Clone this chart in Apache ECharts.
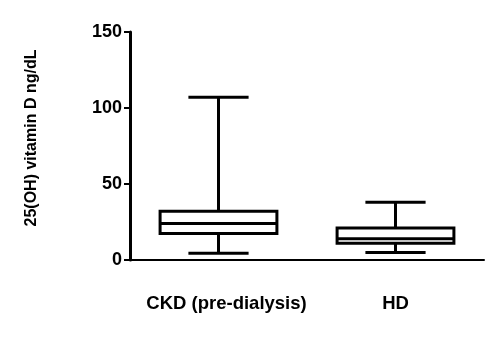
<!DOCTYPE html>
<html>
<head>
<meta charset="utf-8">
<script src="https://cdn.jsdelivr.net/npm/echarts@6/dist/echarts.min.js"></script>
<style>
  html, body { margin: 0; padding: 0; background: #fff; }
  #chart { width: 500px; height: 337px; }
</style>
</head>
<body>
<div id="chart"></div>
<script>
  // groups on the x axis
  var categories = ['CKD (pre-dialysis)', 'HD']
  // box plot values
  var whiskerLow = [4.5, 5]
  var q1 = [17.5, 11]
  var median = [24, 14]
  var q3 = [32, 21]
  var whiskerHigh = [107, 38]
  var yTicks = [0, 50, 100, 150]

  var rows = categories.map(function (c, i) {
    return [i, whiskerLow[i], q1[i], median[i], q3[i], whiskerHigh[i]]
  })

  var chart = echarts.init(document.getElementById('chart'))

  function renderBox(params, api) {
    var idx = api.value(0)
    var bandW = api.size([1, 0])[0]
    var half = bandW * 0.33
    var capHalf = bandW * 0.17
    var low = api.coord([idx, api.value(1)])
    var p1 = api.coord([idx, api.value(2)])
    var pm = api.coord([idx, api.value(3)])
    var p3 = api.coord([idx, api.value(4)])
    var high = api.coord([idx, api.value(5)])
    var cx = low[0]
    var st = { stroke: '#000', lineWidth: 3, fill: null }
    return {
      type: 'group',
      children: [
        { type: 'line', shape: { x1: cx, y1: high[1], x2: cx, y2: p3[1] }, style: st },
        { type: 'line', shape: { x1: cx, y1: p1[1], x2: cx, y2: low[1] }, style: st },
        { type: 'line', shape: { x1: cx - capHalf, y1: high[1], x2: cx + capHalf, y2: high[1] }, style: st },
        { type: 'line', shape: { x1: cx - capHalf, y1: low[1], x2: cx + capHalf, y2: low[1] }, style: st },
        { type: 'rect', shape: { x: cx - half, y: p3[1], width: half * 2, height: p1[1] - p3[1] }, style: { stroke: '#000', lineWidth: 3, fill: '#fff' } },
        { type: 'line', shape: { x1: cx - half, y1: pm[1], x2: cx + half, y2: pm[1] }, style: st }
      ]
    }
  }

  chart.setOption({
    backgroundColor: '#fff',
    animation: false,
    grid: { left: 130, right: 16, top: 32, bottom: 77 },
    xAxis: {
      type: 'category',
      data: categories,
      boundaryGap: true,
      axisLine: { lineStyle: { color: '#000', width: 2 } },
      axisTick: { alignWithLabel: true, length: 6, lineStyle: { color: '#000', width: 2 } },
      axisLabel: {
        interval: 0,
        color: '#000', fontFamily: 'Liberation Sans, Arial, sans-serif',
        fontWeight: 'bold', fontSize: 18.5, margin: 34,
        formatter: function (v, i) {
          return i === 0 ? '{a|' + v + '}' : v
        },
        rich: {
          a: {
            color: '#000', fontFamily: 'Liberation Sans, Arial, sans-serif',
            fontWeight: 'bold', fontSize: 18.5, padding: [0, 0, 0, 16]
          }
        }
      },
      splitLine: { show: false }
    },
    yAxis: {
      type: 'value',
      min: yTicks[0],
      max: yTicks[yTicks.length - 1],
      interval: 50,
      name: '25(OH) vitamin D ng/dL',
      nameLocation: 'middle',
      nameGap: 90,
      nameTextStyle: {
        color: '#000', fontFamily: 'Liberation Sans, Arial, sans-serif',
        fontWeight: 'bold', fontSize: 16, padding: [0, 0, 0, 16]
      },
      axisLine: { show: true, lineStyle: { color: '#000', width: 3 } },
      axisTick: { show: true, length: 6, lineStyle: { color: '#000', width: 2 } },
      axisLabel: {
        color: '#000', fontFamily: 'Liberation Sans, Arial, sans-serif',
        fontWeight: 'bold', fontSize: 18, margin: 8
      },
      splitLine: { show: false }
    },
    series: [{
      type: 'custom',
      renderItem: renderBox,
      encode: { x: 0, y: [1, 2, 3, 4, 5] },
      data: rows
    }]
  })
</script>
</body>
</html>
